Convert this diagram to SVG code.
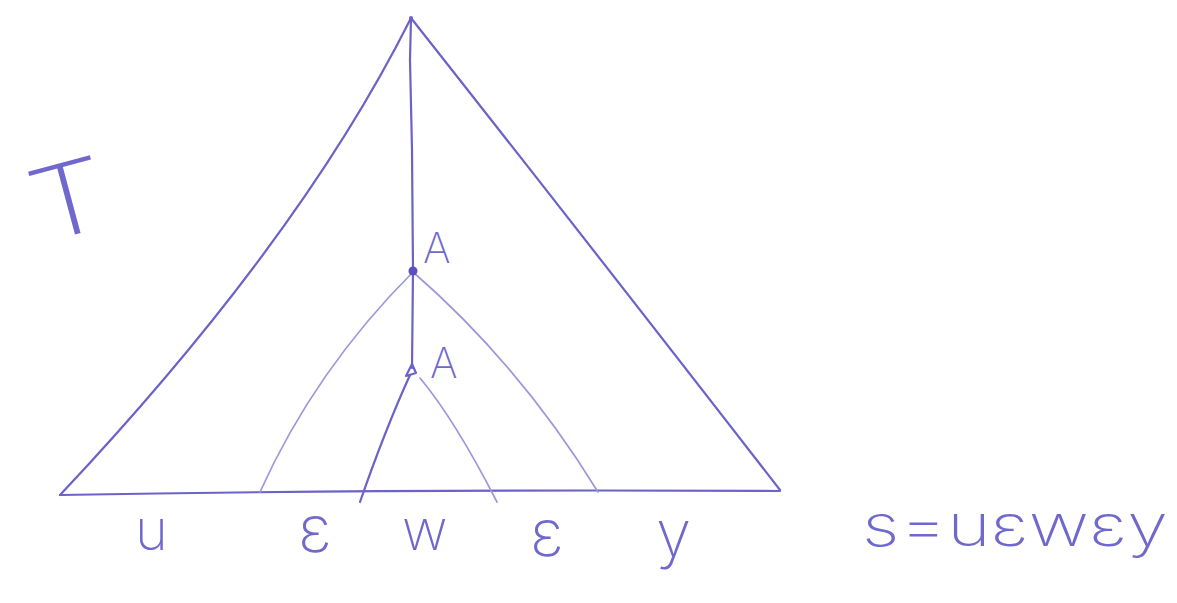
<svg xmlns="http://www.w3.org/2000/svg" width="1177" height="603" viewBox="0 0 1177 603">
<style>
.ln{fill:none;stroke:#6c62c8;stroke-width:2.2;stroke-linecap:round;stroke-linejoin:round}
.lt{fill:none;stroke:#9d97dc;stroke-width:1.7;stroke-linecap:round}
.tx{font-family:"Inter","DejaVu Sans",sans-serif;font-weight:200;fill:#7068cc}
</style>
<rect width="1177" height="603" fill="#ffffff"/>
<g id="connectors">
<path class="ln" d="M411,18 Q300,240 60,495"/>
<path class="ln" d="M411,18 Q590,245 780,490"/>
<path class="ln" d="M60,495 Q400,489 780,491"/>
<path class="ln" d="M411,18 L410,60 L412,150 L413,270 L412,368"/>
<path class="lt" d="M413,272 Q315,370 260,492"/>
<path class="lt" d="M413,272 Q520,365 598,492"/>
<path class="ln" d="M410,375 Q385,430 360,502"/>
<path class="lt" d="M420,378 Q455,420 497,502"/>
</g>
<g id="root"><circle cx="411" cy="18" r="2" fill="#6c62c8"/></g>
<g id="nodeA1">
<circle cx="413" cy="271" r="4.5" fill="#5a50c0"/>
<text class="tx" x="423" y="263" font-size="42">A</text>
</g>
<g id="nodeA2">
<path class="ln" d="M412,364 L406,376 L416,373 Z"/>
<text class="tx" x="430" y="378" font-size="42">A</text>
</g>
<g id="label-T"><text class="tx" x="0" y="0" font-size="100" transform="translate(40,244) rotate(-15) scale(1.25,1)">T</text></g>
<g id="leaves">
<text class="tx" x="135" y="550" font-size="56">u</text>
<text class="tx" x="298" y="552" font-size="66">ε</text>
<text class="tx" x="402" y="550" font-size="56">w</text>
<text class="tx" x="530" y="556" font-size="66">ε</text>
<text class="tx" x="656" y="556" font-size="64">y</text>
</g>
<g id="label-s"><text class="tx" x="862" y="546" font-size="58" textLength="306" lengthAdjust="spacingAndGlyphs">s=uεwεy</text></g>
</svg>
